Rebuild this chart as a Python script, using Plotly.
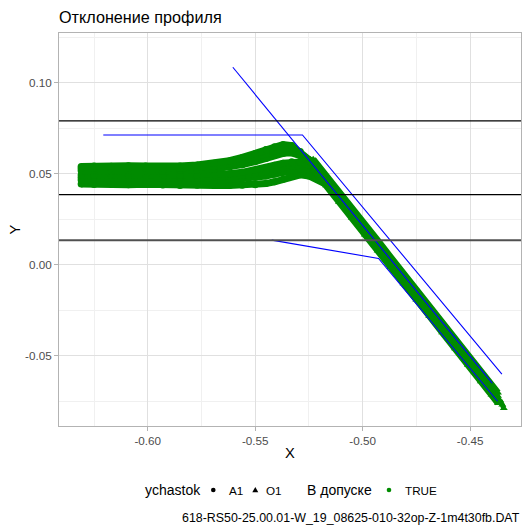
import plotly.graph_objects as go

# ---------------- data ----------------
# section A1 (circles): flat band + bump, several measured passes
a1_x = [-0.631, -0.625, -0.617, -0.609, -0.601, -0.593, -0.585, -0.577, -0.569, -0.562,
        -0.556, -0.550, -0.545, -0.541, -0.537, -0.533, -0.529, -0.525, -0.521, -0.517]
a1_p1 = [0.0540, 0.0543, 0.0541, 0.0544, 0.0542, 0.0540, 0.0543, 0.0548, 0.0558, 0.0572,
         0.0590, 0.0612, 0.0633, 0.0648, 0.0660, 0.0655, 0.0622, 0.0578, 0.0525, 0.0468]
a1_p2 = [0.0529, 0.0531, 0.0528, 0.0531, 0.0530, 0.0528, 0.0531, 0.0534, 0.0542, 0.0554,
         0.0570, 0.0590, 0.0609, 0.0624, 0.0636, 0.0636, 0.0612, 0.0575, 0.0523, 0.0465]
a1_p3 = [0.0516, 0.0519, 0.0515, 0.0518, 0.0517, 0.0515, 0.0518, 0.0520, 0.0526, 0.0536,
         0.0550, 0.0567, 0.0584, 0.0600, 0.0612, 0.0615, 0.0600, 0.0570, 0.0520, 0.0462]
a1_p4 = [0.0493, 0.0490, 0.0494, 0.0491, 0.0492, 0.0494, 0.0491, 0.0492, 0.0495, 0.0500,
         0.0508, 0.0520, 0.0534, 0.0547, 0.0558, 0.0566, 0.0565, 0.0548, 0.0512, 0.0458]
a1_p5 = [0.0480, 0.0479, 0.0480, 0.0480, 0.0479, 0.0479, 0.0479, 0.0478, 0.0480, 0.0484,
         0.0490, 0.0500, 0.0511, 0.0523, 0.0534, 0.0543, 0.0546, 0.0535, 0.0506, 0.0455]
a1_p6 = [0.0466, 0.0468, 0.0465, 0.0469, 0.0466, 0.0464, 0.0467, 0.0465, 0.0466, 0.0468,
         0.0472, 0.0479, 0.0488, 0.0498, 0.0510, 0.0520, 0.0525, 0.0520, 0.0500, 0.0452]
a1_p7 = [0.0444, 0.0441, 0.0443, 0.0440, 0.0442, 0.0438, 0.0436, 0.0437, 0.0435, 0.0436,
         0.0437, 0.0440, 0.0446, 0.0456, 0.0470, 0.0485, 0.0494, 0.0488, 0.0470, 0.0442]

# section O1 (triangles): descending flank
o1_x = [-0.523, -0.517, -0.511, -0.505, -0.499, -0.493, -0.487, -0.481, -0.475, -0.469,
        -0.463, -0.457, -0.451, -0.445, -0.440, -0.437]
o1_p1 = [0.0580, 0.0493, 0.0402, 0.0314, 0.0222, 0.0135, 0.0043, -0.0047, -0.0134, -0.0226,
         -0.0314, -0.0405, -0.0493, -0.0584, -0.0658, -0.0702]
o1_p2 = [0.0562, 0.0472, 0.0385, 0.0293, 0.0205, 0.0114, 0.0026, -0.0066, -0.0153, -0.0245,
         -0.0333, -0.0422, -0.0512, -0.0602, -0.0676, -0.0720]
o1_p3 = [0.0545, 0.0453, 0.0366, 0.0274, 0.0186, 0.0095, 0.0006, -0.0085, -0.0172, -0.0264,
         -0.0352, -0.0443, -0.0531, -0.0621, -0.0697, -0.0742]
o1_p4 = [0.0524, 0.0436, 0.0345, 0.0257, 0.0165, 0.0078, -0.0013, -0.0102, -0.0192, -0.0281,
         -0.0371, -0.0460, -0.0550, -0.0640, -0.0714, -0.0760]
o1_tail_x = [-0.4360, -0.4350, -0.4343]
o1_tail_y = [-0.0745, -0.0768, -0.0787]

# tolerance lines (blue)
tol1_x = [-0.5604, -0.4397]
tol1_y = [0.1085, -0.0650]
tol2_x = [-0.6207, -0.5280, -0.4352]
tol2_y = [0.0713, 0.0713, -0.0600]
tol3_x = [-0.5423, -0.4926, -0.4372]
tol3_y = [0.01357, 0.0035, -0.0749]

# horizontal reference lines
hlines_y = [0.079, 0.0385]
hline_grey_y = 0.0135

x_ticks = [-0.60, -0.55, -0.50, -0.45]
x_ticktext = ["-0.60", "-0.55", "-0.50", "-0.45"]
x_minor = [-0.625, -0.575, -0.525, -0.475]
y_ticks = [0.10, 0.05, 0.00, -0.05]
y_ticktext = ["0.10", "0.05", "0.00", "-0.05"]
y_minor = [0.125, 0.075, 0.025, -0.025, -0.075]

title_text = "Отклонение профиля"
caption_text = "618-RS50-25.00.01-W_19_08625-010-32op-Z-1m4t30fb.DAT"

# ---------------- figure ----------------
GREEN = "#008B00"
FONT = "Liberation Sans, Arial, sans-serif"
fig = go.Figure()

for ys in [a1_p7, a1_p6, a1_p5, a1_p4, a1_p3, a1_p2, a1_p1]:
    fig.add_trace(go.Scatter(x=a1_x, y=ys, mode="lines+markers",
                             line=dict(color=GREEN, width=7),
                             marker=dict(symbol="circle", size=7, color=GREEN),
                             showlegend=False, hoverinfo="skip"))
for ys in [o1_p4, o1_p3, o1_p2, o1_p1]:
    fig.add_trace(go.Scatter(x=o1_x, y=ys, mode="lines+markers",
                             line=dict(color=GREEN, width=6.5),
                             marker=dict(symbol="triangle-up", size=7, color=GREEN),
                             showlegend=False, hoverinfo="skip"))
fig.add_trace(go.Scatter(x=o1_tail_x, y=o1_tail_y, mode="lines+markers",
                         line=dict(color=GREEN, width=5),
                         marker=dict(symbol="triangle-up", size=7, color=GREEN),
                         showlegend=False, hoverinfo="skip"))

for xs, ys in [(tol1_x, tol1_y), (tol2_x, tol2_y), (tol3_x, tol3_y)]:
    fig.add_trace(go.Scatter(x=xs, y=ys, mode="lines",
                             line=dict(color="#0000FF", width=1.1),
                             showlegend=False, hoverinfo="skip"))

for yv in hlines_y:
    fig.add_shape(type="line", xref="paper", x0=0, x1=1, yref="y", y0=yv, y1=yv,
                  line=dict(color="black", width=1.2), layer="above")
fig.add_shape(type="line", xref="paper", x0=0, x1=1, yref="y", y0=hline_grey_y, y1=hline_grey_y,
              line=dict(color="#505050", width=1.8), layer="above")

# ---------------- manual legend, titles & caption ----------------
L, R, T, B = 59, 8, 33, 100
W, H = 529, 526
pw, ph = W - L - R, H - T - B
def px(xp):
    return (xp - L) / pw
def py(yp):
    return (H - B - yp) / ph

ly = 490
ann = [
    ("ychastok", 144, 14.0),
    ("A1", 228, 11.7),
    ("O1", 265, 11.7),
    ("В допуске", 306, 14.0),
    ("TRUE", 404, 11.7),
]
for txt, xl, fs in ann:
    fig.add_annotation(text=txt, xref="paper", yref="paper", x=px(xl), y=py(ly),
                       xanchor="left", yanchor="middle", showarrow=False,
                       font=dict(size=fs, color="black", family=FONT), borderpad=0)
fig.add_shape(type="circle", xref="paper", yref="paper", xsizemode="pixel", ysizemode="pixel",
              xanchor=px(213.3), yanchor=py(ly), x0=-2.3, x1=2.3, y0=-2.3, y1=2.3,
              fillcolor="black", line=dict(width=0))
fig.add_shape(type="path", xref="paper", yref="paper", xsizemode="pixel", ysizemode="pixel",
              xanchor=px(255.3), yanchor=py(ly), path="M-3,-2.2 L3,-2.2 L0,3 Z",
              fillcolor="black", line=dict(width=0))
fig.add_shape(type="circle", xref="paper", yref="paper", xsizemode="pixel", ysizemode="pixel",
              xanchor=px(389), yanchor=py(ly), x0=-2.3, x1=2.3, y0=-2.3, y1=2.3,
              fillcolor=GREEN, line=dict(width=0))
fig.add_annotation(text=caption_text, xref="paper", yref="paper", x=1, y=py(518),
                   xanchor="right", yanchor="middle", showarrow=False,
                   font=dict(size=12.4, color="black", family=FONT), borderpad=0)
fig.add_annotation(text=title_text, xref="paper", yref="paper", x=px(57.5), y=py(17),
                   xanchor="left", yanchor="middle", showarrow=False,
                   font=dict(size=16.2, color="black", family=FONT), borderpad=0)
fig.add_annotation(text="X", xref="paper", yref="paper", x=0.5, y=py(453),
                   xanchor="center", yanchor="middle", showarrow=False,
                   font=dict(size=14.7, color="black", family=FONT), borderpad=0)
fig.add_annotation(text="Y", xref="paper", yref="paper", x=px(14), y=0.5, textangle=-90,
                   xanchor="center", yanchor="middle", showarrow=False,
                   font=dict(size=14.7, color="black", family=FONT), borderpad=0)

axis_common = dict(showline=True, linecolor="#B3B3B3", linewidth=1, mirror=True,
                   showgrid=True, gridcolor="#E0E0E0", gridwidth=1, zeroline=False,
                   ticks="outside", ticklen=4, tickcolor="#B3B3B3", tickwidth=1,
                   tickfont=dict(size=11.7, color="#4D4D4D", family=FONT))
fig.update_xaxes(range=[-0.6413, -0.4263], tickmode="array", tickvals=x_ticks, ticktext=x_ticktext,
                 minor=dict(tickvals=x_minor, showgrid=True, gridcolor="#F0F0F0", gridwidth=0.7, ticks=""),
                 **axis_common)
fig.update_yaxes(range=[-0.0885, 0.1273], tickmode="array", tickvals=y_ticks, ticktext=y_ticktext,
                 minor=dict(tickvals=y_minor, showgrid=True, gridcolor="#F0F0F0", gridwidth=0.7, ticks=""),
                 **axis_common)

fig.update_layout(
    template="none",
    width=W, height=H, autosize=False,
    margin=dict(l=L, r=R, t=T, b=B, pad=0),
    paper_bgcolor="white", plot_bgcolor="white",
    showlegend=False,
    font=dict(family=FONT, color="black"),
)

fig.write_html("out.html")
